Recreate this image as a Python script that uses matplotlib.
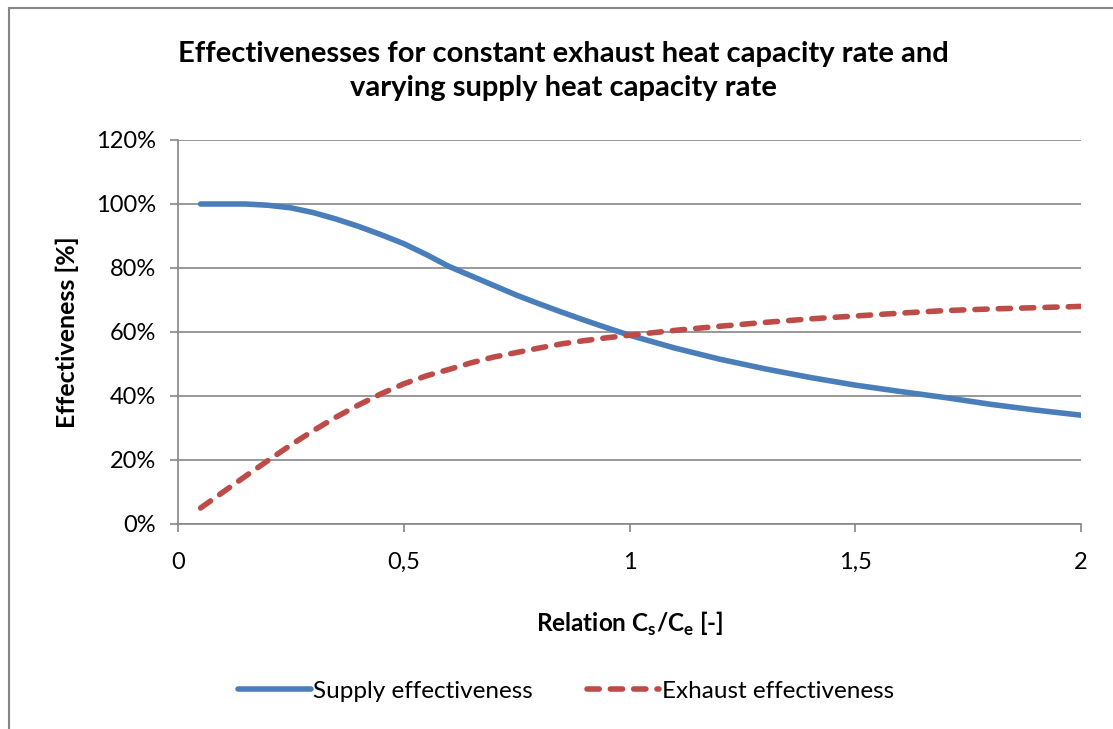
import matplotlib
matplotlib.use("Agg")
import matplotlib.pyplot as plt
from matplotlib.lines import Line2D
from matplotlib.ticker import FuncFormatter

# values
relation = [0.05, 0.1, 0.15, 0.2, 0.25, 0.3, 0.35, 0.4, 0.45, 0.5,
            0.55, 0.6, 0.65, 0.7, 0.75, 0.8, 0.85, 0.9, 0.95, 1.0,
            1.1, 1.2, 1.3, 1.4, 1.5, 1.6, 1.7, 1.8, 1.9, 2.0]
supply = [100, 100, 100, 99.6, 98.8, 97.3, 95.3, 93.0, 90.4, 87.6,
          84.2, 80.5, 77.5, 74.5, 71.5, 68.8, 66.2, 63.7, 61.3, 59.0,
          55.0, 51.5, 48.5, 45.8, 43.4, 41.4, 39.5, 37.4, 35.6, 34.0]
exhaust = [5.0, 10.0, 15.0, 19.9, 24.7, 29.2, 33.4, 37.2, 40.7, 43.8,
           46.3, 48.3, 50.4, 52.2, 53.6, 55.0, 56.3, 57.3, 58.2, 59.0,
           60.5, 61.8, 63.0, 64.1, 65.0, 65.9, 66.7, 67.2, 67.6, 68.0]
yticks = [0, 20, 40, 60, 80, 100, 120]
xticks = [0, 0.5, 1, 1.5, 2]

plt.rcParams['font.family'] = ['Lato', 'DejaVu Sans']
plt.rcParams['mathtext.fontset'] = 'custom'
plt.rcParams['mathtext.rm'] = 'Lato:bold'

W, H = 1113, 729
fig = plt.figure(figsize=(W / 100, H / 100), dpi=100)
ax = fig.add_axes([178 / W, 1 - 524 / H, (1081 - 178) / W, (524 - 140) / H])

grey = '#868686'
ax.plot(relation, supply, color='#4A7EBB', lw=4.0, solid_capstyle='round',
        label='Supply effectiveness')
ax.plot(relation, exhaust, color='#BE4B48', lw=4.0, dashes=(2.2, 2.0),
        dash_capstyle='round', label='Exhaust effectiveness')

ax.set_xlim(0, 2)
ax.set_ylim(0, 120)
ax.set_xticks(xticks)
ax.set_yticks(yticks)
ax.xaxis.set_major_formatter(FuncFormatter(lambda v, p: ('%g' % v).replace('.', ',')))
ax.yaxis.set_major_formatter(FuncFormatter(lambda v, p: '%d%%' % v))
ax.grid(axis='y', color=grey, lw=1.2)
ax.set_axisbelow(True)
for s in ['top', 'right']:
    ax.spines[s].set_visible(False)
for s in ['left', 'bottom']:
    ax.spines[s].set_color(grey)
    ax.spines[s].set_linewidth(1.2)
ax.tick_params(axis='both', colors=grey, length=6, width=1.2, labelsize=17,
               labelcolor='black')
ax.tick_params(axis='y', pad=10)
ax.tick_params(axis='x', pad=14)

ax.set_ylabel('Effectiveness [%]', fontsize=18, fontweight='bold', labelpad=12)
ax.set_xlabel(r'Relation C$_\mathrm{s}$/C$_\mathrm{e}$ [-]', fontsize=17.5,
              fontweight='bold', labelpad=27)
fig.text(563 / W, 1 - 71 / H,
         'Effectivenesses for constant exhaust heat capacity rate and\nvarying supply heat capacity rate',
         ha='center', va='center', fontsize=21, fontweight='bold', linespacing=1.4)

fig.legend(loc='center', bbox_to_anchor=(566 / W, 1 - 691 / H), ncol=2,
           frameon=False, fontsize=17.5, handlelength=3.0, handletextpad=0.1,
           columnspacing=2.2)

# chart border (top and left edges visible)
fig.add_artist(Line2D([9 / W, 1], [1 - 8 / H, 1 - 8 / H], color=grey, lw=1.5,
                      transform=fig.transFigure))
fig.add_artist(Line2D([9 / W, 9 / W], [0, 1 - 8 / H], color=grey, lw=1.5,
                      transform=fig.transFigure))

fig.savefig('out.png', dpi=100)
